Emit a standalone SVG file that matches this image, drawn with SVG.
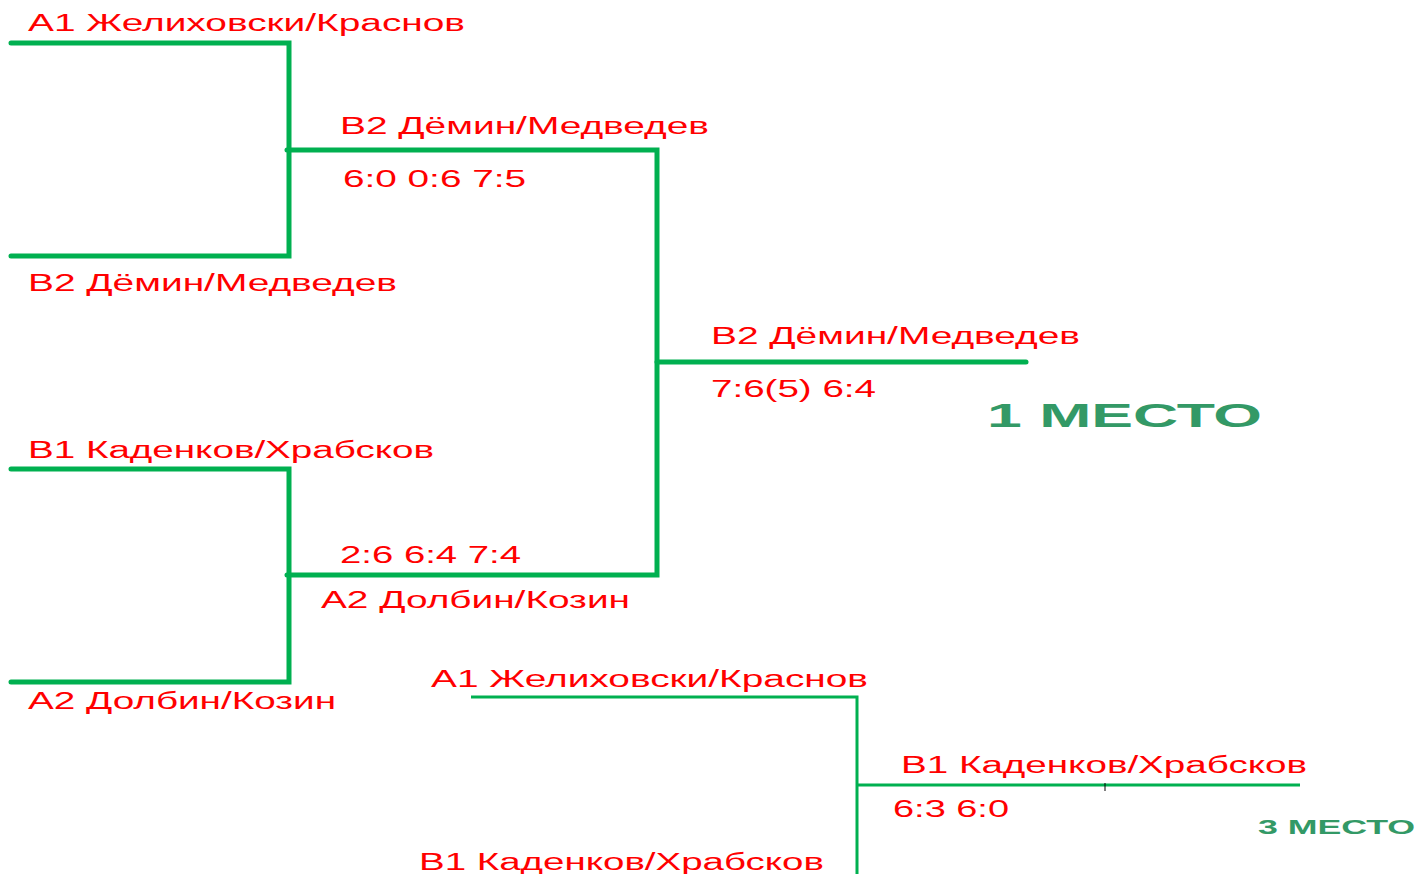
<svg xmlns="http://www.w3.org/2000/svg" width="1418" height="874" viewBox="0 0 1418 874">
<style>
.t{font-family:"Liberation Sans",Arial,sans-serif;font-size:23px;fill:#ff0000}
.m{font-family:"Liberation Sans",Arial,sans-serif;font-weight:bold;fill:#339966}
.k{fill:none;stroke:#00b050;stroke-width:5;stroke-linecap:round;stroke-linejoin:miter}
.n{fill:none;stroke:#00b050;stroke-width:3}
</style>
<rect width="1418" height="874" fill="#fff"/>
<g id="connectors">
<path class="k" d="M11,43 H289 V256 H11"/>
<path class="k" d="M287,150 H657 V575 H287"/>
<path class="k" d="M657,362 H1026"/>
<path class="k" d="M11,469 H289 V682 H11"/>
<path class="n" d="M471,697 H857 V874"/>
<path class="n" d="M857,785 H1300"/>
<path d="M1105,783 V791" stroke="#000" stroke-width="1"/>
</g>
<g id="r1-a1"><text class="t" x="28" y="31" textLength="437" lengthAdjust="spacingAndGlyphs">А1 Желиховски/Краснов</text></g>
<g id="r1-b2"><text class="t" x="28" y="291" textLength="369" lengthAdjust="spacingAndGlyphs">В2 Дёмин/Медведев</text></g>
<g id="r1-b1"><text class="t" x="28" y="458" textLength="406" lengthAdjust="spacingAndGlyphs">В1 Каденков/Храбсков</text></g>
<g id="r1-a2"><text class="t" x="28" y="709" textLength="308" lengthAdjust="spacingAndGlyphs">А2 Долбин/Козин</text></g>
<g id="sf1"><text class="t" x="340" y="134" textLength="369" lengthAdjust="spacingAndGlyphs">В2 Дёмин/Медведев</text>
<text class="t" x="343" y="187" textLength="183" lengthAdjust="spacingAndGlyphs">6:0 0:6 7:5</text></g>
<g id="sf2"><text class="t" x="340" y="563" textLength="181" lengthAdjust="spacingAndGlyphs">2:6 6:4 7:4</text>
<text class="t" x="321" y="608" textLength="309" lengthAdjust="spacingAndGlyphs">А2 Долбин/Козин</text></g>
<g id="final"><text class="t" x="711" y="344" textLength="369" lengthAdjust="spacingAndGlyphs">В2 Дёмин/Медведев</text>
<text class="t" x="711" y="397" textLength="165" lengthAdjust="spacingAndGlyphs">7:6(5) 6:4</text>
<text class="m" x="987" y="427" font-size="34" textLength="275" lengthAdjust="spacingAndGlyphs">1 МЕСТО</text></g>
<g id="third-a1"><text class="t" x="431" y="687" textLength="437" lengthAdjust="spacingAndGlyphs">А1 Желиховски/Краснов</text></g>
<g id="third-b1"><text class="t" x="419" y="870" textLength="405" lengthAdjust="spacingAndGlyphs">В1 Каденков/Храбсков</text></g>
<g id="third"><text class="t" x="901" y="773" textLength="406" lengthAdjust="spacingAndGlyphs">В1 Каденков/Храбсков</text>
<text class="t" x="893" y="817" textLength="116" lengthAdjust="spacingAndGlyphs">6:3 6:0</text>
<text class="m" x="1258" y="834" font-size="21" textLength="157" lengthAdjust="spacingAndGlyphs">3 МЕСТО</text></g>
</svg>
